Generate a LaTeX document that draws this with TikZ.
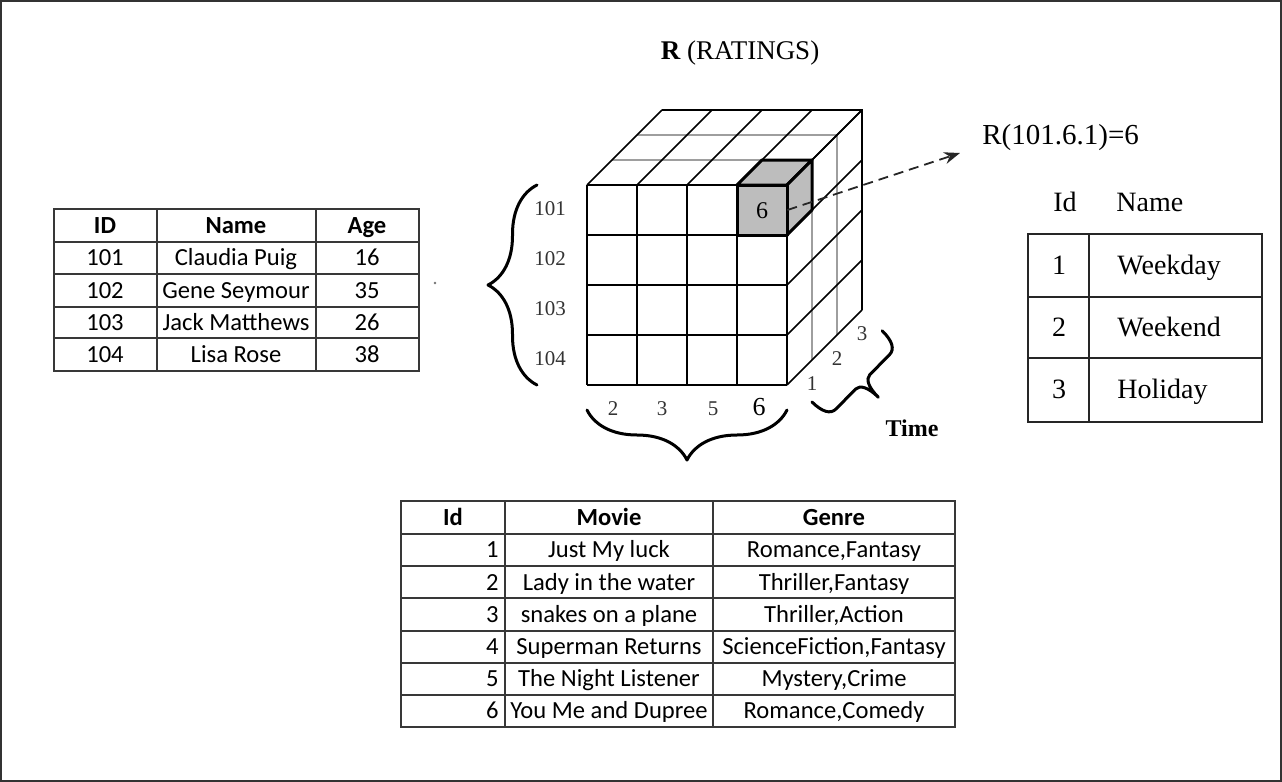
\documentclass[tikz,border=0pt]{standalone}
\usepackage{fontspec}
\setmainfont{Liberation Serif}
\newfontfamily\calibrifont{Carlito}
\usetikzlibrary{arrows.meta}
\usetikzlibrary{decorations.pathreplacing}
\usetikzlibrary{positioning}
\definecolor{mgrid}{rgb}{0.22, 0.22, 0.22}
\definecolor{mhidden}{rgb}{0.62, 0.62, 0.62}
\definecolor{mcell}{rgb}{0.74, 0.74, 0.74}

\tikzset{
  tabtext/.style={font=\calibrifont\fontsize{12.3}{14}\selectfont, inner sep=0pt, text height=7.9pt, text depth=0pt},
  tabhead/.style={font=\calibrifont\bfseries\fontsize{12.3}{14}\selectfont, inner sep=0pt, text height=7.9pt, text depth=0pt},
  tabgrid/.style={draw=mgrid, line width=1pt},
  slottext/.style={font=\fontsize{14}{16}\selectfont, inner sep=0pt, text height=9.3pt, text depth=0pt},
  slotgrid/.style={draw=black!85, line width=1.2pt},
  cubelabel/.style={font=\fontsize{10.5}{12}\selectfont, text=black!80, inner sep=0pt, text height=7pt, text depth=0pt},
  cubeline/.style={black, line width=0.8pt},
  hiddenline/.style={mhidden, line width=1pt},
  cellcube/.style={fill=mcell, draw=black, line width=1.5pt, line join=round},
  bracestroke/.style={black, line width=1.5pt, line cap=round, line join=round},
  ratingarrow/.style={black!85, line width=0.9pt, dash pattern=on 5pt off 3pt, -{Stealth[length=8pt, width=6pt]}}
}

\begin{document}
\begin{tikzpicture}[x=0.5pt, y=-0.5pt]
  \useasboundingbox (0,0) rectangle (1282,782);
  \draw[black!80, line width=1pt] (1,1) rectangle (1281,781);

  % title of the cube
  \node[font=\fontsize{13.5}{15}\selectfont, inner sep=0pt, text height=8.9pt, text depth=0pt] (cubetitle) at (740,51) {\textbf{R} (RATINGS)};

  % cube: hidden layer lines first
  \foreach \k in {1,2}
    \draw[hiddenline] (587+25*\k,185-25*\k) -- (787+25*\k,185-25*\k) -- (787+25*\k,385-25*\k);
  % front grid
  \foreach \i in {0,...,4} {
    \draw[cubeline] (587+50*\i,185) -- (587+50*\i,385);
    \draw[cubeline] (587,185+50*\i) -- (787,185+50*\i);
  }
  % top and right faces
  \foreach \i in {0,...,4} {
    \draw[cubeline] (587+50*\i,185) -- ++(75,-75);
    \draw[cubeline] (787,185+50*\i) -- ++(75,-75);
  }
  \draw[cubeline] (662,110) -- (862,110) -- (862,310);

  % the rated cell
  \filldraw[cellcube] (737,185) -- (762,160) -- (812,160) -- (787,185) -- cycle;
  \filldraw[cellcube] (787,185) -- (812,160) -- (812,210) -- (787,235) -- cycle;
  \filldraw[cellcube] (737,185) rectangle (787,235);
  \node[cubelabel, font=\fontsize{12}{14}\selectfont, text height=8pt, minimum width=25pt, minimum height=25pt, text=black] (cellsix) at (762,210) {6};

  % axis labels
  \foreach \id [count=\r from 0] in {101,...,104}
    \node[cubelabel] (user\id) at (550,208+50*\r) {\id};
  \foreach \m/\x in {2/613, 3/662, 5/713}
    \node[cubelabel] (movie\m) at (\x,408) {\m};
  \node[cubelabel, font=\fontsize{13}{15}\selectfont, text height=8.6pt, text=black] (movie6) at (759,407) {6};
  \foreach \t in {1,2,3}
    \node[cubelabel] (time\t) at (787+25*\t,408-25*\t) {\t};
  \node[font=\bfseries\fontsize{12}{14}\selectfont, inner sep=0pt, text height=8pt, text depth=0pt] (timelabel) at (912,428) {Time};

  % braces
  \draw[bracestroke, decorate, decoration={brace, amplitude=24.5pt}] (537,385) -- (537,185);
  \draw[bracestroke, decorate, decoration={brace, amplitude=25pt}] (787,410) -- (587,410);
  \draw[bracestroke] (812,402) .. controls (822,411.8) and (830.5,414.6) .. (836.1,408.9)
    -- (855.7,389) .. controls (860,384.7) and (868.5,387.5) .. (878.4,397.3)
    .. controls (868.5,387.5) and (865.6,379) .. (869.8,374.7)
    -- (889.4,354.8) .. controls (895.1,349.1) and (892.2,340.6) .. (882.2,330.8);

  % rating value
  \node[font=\fontsize{14.5}{16}\selectfont, inner sep=0pt, text height=9.6pt, text depth=0pt, anchor=west] (ratingeq) at (982,135) {R(101.6.1)=6};
  \coordinate (ratingtip) at (960,153);
  \draw[ratingarrow] (cellsix.east) -- (ratingtip);

  % users table
  \draw[tabgrid] (54,209) rectangle (419,371);
  \foreach \y in {242,274,307,338} \draw[tabgrid] (54,\y) -- (419,\y);
  \foreach \x in {157,316} \draw[tabgrid] (\x,209) -- (\x,371);
  \node[tabhead] (userhead) at (105,226) {ID};
  \node[tabhead] (namehead) at (236,226) {Name};
  \node[tabhead] (agehead) at (367,226) {Age};
  \foreach \id/\name/\age [count=\r from 0] in {101/Claudia Puig/16, 102/Gene Seymour/35, 103/Jack Matthews/26, 104/Lisa Rose/38} {
    \node[tabtext] (uid\id) at (105,258+32.2*\r) {\id};
    \node[tabtext] (uname\id) at (236,258+32.2*\r) {\name};
    \node[tabtext] (uage\id) at (367,258+32.2*\r) {\age};
  }
  \fill[black!55] (435,283) circle (0.7pt);

  % movies table
  \draw[tabgrid] (401,501) rectangle (955,727);
  \foreach \y in {534,566,598,631,663,695} \draw[tabgrid] (401,\y) -- (955,\y);
  \foreach \x in {505,713} \draw[tabgrid] (\x,501) -- (\x,727);
  \node[tabhead] (midhead) at (453,518) {Id};
  \node[tabhead] (moviehead) at (609,518) {Movie};
  \node[tabhead] (genrehead) at (834,518) {Genre};
  \foreach \mid/\title/\genre [count=\r from 0] in {1/Just My luck/{Romance,Fantasy}, 2/Lady in the water/{Thriller,Fantasy}, 3/snakes on a plane/{Thriller,Action}, 4/Superman Returns/{ScienceFiction,Fantasy}, 5/The Night Listener/{Mystery,Crime}, 6/You Me and Dupree/{Romance,Comedy}} {
    \node[tabtext, anchor=east] (mid\mid) at (499,550+32.2*\r) {\mid};
    \node[tabtext] (mtitle\mid) at (609,550+32.2*\r) {\title};
    \node[tabtext] (mgenre\mid) at (834,550+32.2*\r) {\genre};
  }

  % time slots table
  \node[slottext] (slotidhead) at (1065,202) {Id};
  \node[slottext, anchor=west] (slotnamehead) at (1116,202) {Name};
  \draw[slotgrid] (1028,234) rectangle (1262,422);
  \draw[slotgrid, line width=0.8pt] (1028,297) -- (1262,297);
  \draw[slotgrid] (1028,358) -- (1262,358);
  \draw[slotgrid] (1089,234) -- (1089,422);
  \foreach \sid/\sname [count=\r from 0] in {1/Weekday, 2/Weekend, 3/Holiday} {
    \node[slottext] (sid\sid) at (1059,265+62*\r) {\sid};
    \node[slottext, anchor=west] (sname\sid) at (1117,265+62*\r) {\sname};
  }
\end{tikzpicture}
\end{document}
